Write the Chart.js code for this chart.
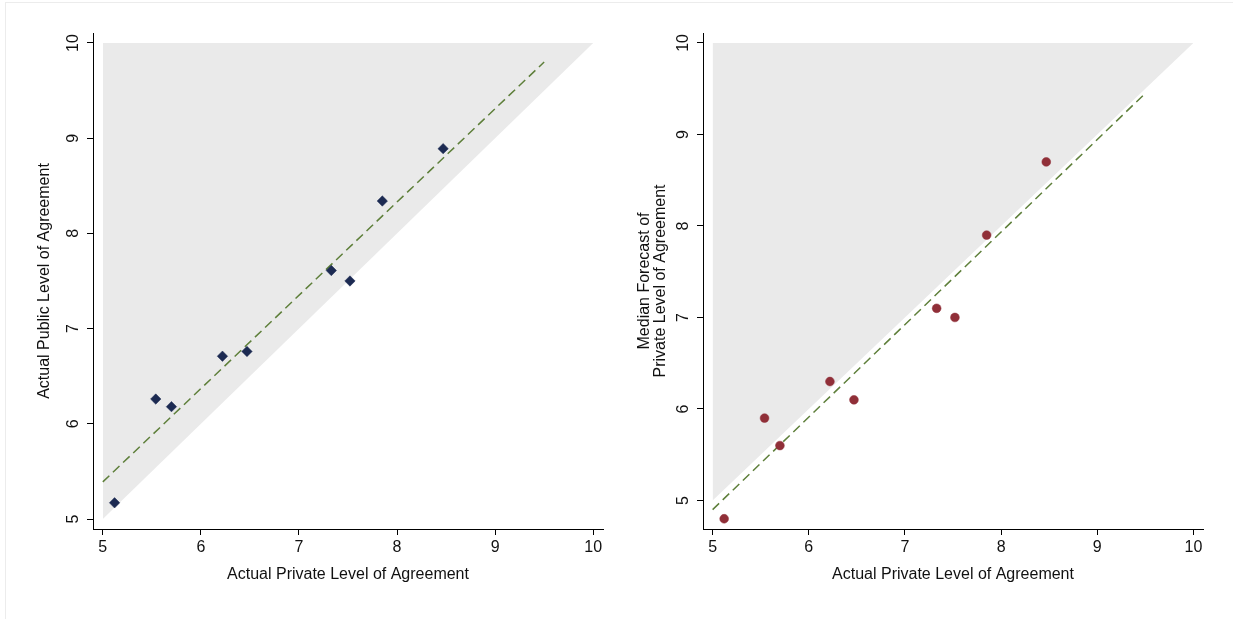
<!DOCTYPE html>
<html>
<head>
<meta charset="utf-8">
<script src="https://cdn.jsdelivr.net/npm/chart.js@4/dist/chart.umd.min.js"></script>
<style>
  html, body { margin: 0; padding: 0; background: #fff; }
  #wrap { position: relative; width: 1233px; height: 619px; overflow: hidden; }
  #frame { position: absolute; left: 5px; top: 2px; width: 1300px; height: 700px;
           border-left: 1px solid #ececec; border-top: 1px solid #ececec; }
  canvas { position: absolute; top: 0; }
  #left { left: 0; }
  #right { left: 616px; }
</style>
</head>
<body>
<div id="wrap">
  <div id="frame"></div>
  <canvas id="left" width="616" height="619"></canvas>
  <canvas id="right" width="617" height="619"></canvas>
</div>
<script>
// Observed levels of agreement, one entry per item
const privateLevel   = [5.12, 5.54, 5.70, 6.22, 6.47, 7.33, 7.52, 7.85, 8.47];
const publicLevel    = [5.17, 6.26, 6.18, 6.71, 6.76, 7.61, 7.50, 8.34, 8.89];
const medianForecast = [4.80, 5.90, 5.60, 6.30, 6.10, 7.10, 7.00, 7.90, 8.70];

// Fitted-value lines (end points)
const fitX          = [5, 9.5];
const fitPublicY    = [5.39, 9.80];
const fitForecastY  = [4.90, 9.45];

// Shaded region above the 45-degree line
const shadeX     = [5, 10];
const shadeLowY  = [5, 10];
const shadeHighY = [10, 10];

// Axis ticks
const tickValues = [5, 6, 7, 8, 9, 10];
const tickLabels = ['5', '6', '7', '8', '9', '10'];

const FONT = '"Liberation Sans", Arial, Helvetica, sans-serif';
const TEXT = '#111111';
const FS = 16;

const pts = (xs, ys) => xs.map((x, i) => ({ x: x, y: ys[i] }));

// Y tick labels are drawn turned a quarter turn, reading bottom to top
const rotatedYTicks = {
  id: 'rotatedYTicks',
  afterDraw(chart) {
    const s = chart.scales.y;
    const ctx = chart.ctx;
    ctx.save();
    ctx.font = FS + 'px ' + FONT;
    ctx.fillStyle = TEXT;
    ctx.textAlign = 'center';
    ctx.textBaseline = 'middle';
    s.ticks.forEach(t => {
      const y = s.getPixelForValue(t.value);
      ctx.save();
      ctx.translate(s.right - 20, y);
      ctx.rotate(-Math.PI / 2);
      ctx.fillText(tickLabels[tickValues.indexOf(t.value)], 0, 1);
      ctx.restore();
    });
    ctx.restore();
  }
};

function setTicks(scale) {
  scale.ticks = tickValues.map(v => ({ value: v }));
}

function buildChart(canvasId, cfg) {
  const datasets = [
    {
      data: pts(privateLevel, cfg.yValues),
      pointStyle: cfg.pointStyle,
      pointRadius: cfg.pointRadius,
      backgroundColor: cfg.pointColor,
      borderColor: cfg.pointColor,
      borderWidth: 0.5,
      showLine: false
    },
    {
      data: pts(fitX, cfg.fitY),
      showLine: true,
      borderColor: '#5e7f3a',
      borderWidth: 1.5,
      borderDash: [9, 5],
      pointRadius: 0,
      fill: false
    },
    {
      data: pts(shadeX, shadeLowY),
      showLine: true,
      borderColor: 'rgba(0,0,0,0)',
      borderWidth: 0,
      pointRadius: 0,
      backgroundColor: '#eaeaea',
      fill: '+1'
    },
    {
      data: pts(shadeX, shadeHighY),
      showLine: true,
      borderColor: 'rgba(0,0,0,0)',
      borderWidth: 0,
      pointRadius: 0,
      fill: false
    }
  ];

  return new Chart(document.getElementById(canvasId), {
    type: 'scatter',
    data: { datasets: datasets },
    plugins: [rotatedYTicks],
    options: {
      responsive: false,
      animation: false,
      devicePixelRatio: 1,
      layout: { padding: { left: 0, top: 33, right: cfg.padRight, bottom: 0 } },
      plugins: { legend: { display: false }, tooltip: { enabled: false } },
      scales: {
        x: {
          type: 'linear',
          min: 4.9,
          max: 10.1,
          afterBuildTicks: setTicks,
          afterFit: s => { s.height = 90; },
          grid: { drawOnChartArea: false, drawTicks: true, tickLength: 6, tickColor: '#000', tickWidth: 1 },
          border: { display: true, color: '#000', width: 1 },
          ticks: {
            color: TEXT,
            padding: 3,
            font: { family: FONT, size: FS },
            callback: v => tickLabels[tickValues.indexOf(v)]
          },
          title: {
            display: true,
            text: 'Actual Private Level of Agreement',
            color: TEXT,
            font: { family: FONT, size: FS, lineHeight: 1.2 },
            padding: { top: 0, bottom: 35 }
          }
        },
        y: {
          type: 'linear',
          min: cfg.yMin,
          max: cfg.yMax,
          afterBuildTicks: setTicks,
          afterFit: s => { s.width = cfg.yWidth; },
          grid: { drawOnChartArea: false, drawTicks: true, tickLength: 6, tickColor: '#000', tickWidth: 1 },
          border: { display: true, color: '#000', width: 1 },
          ticks: { display: false },
          title: {
            display: true,
            text: cfg.yTitle,
            color: TEXT,
            font: { family: FONT, size: FS, lineHeight: cfg.titleLH },
            padding: { top: cfg.titlePad, bottom: 0 }
          }
        }
      }
    }
  });
}

buildChart('left', {
  yValues: publicLevel,
  fitY: fitPublicY,
  pointStyle: 'rectRot',
  pointRadius: 5.2,
  pointColor: '#1c2a52',
  yMin: 4.895,
  yMax: 10.105,
  yWidth: 93,
  padRight: 13,
  yTitle: 'Actual Public Level of Agreement',
  titleLH: 1.2,
  titlePad: 35
});

buildChart('right', {
  yValues: medianForecast,
  fitY: fitForecastY,
  pointStyle: 'circle',
  pointRadius: 4.4,
  pointColor: '#902f38',
  yMin: 4.688,
  yMax: 10.109,
  yWidth: 87,
  padRight: 30,
  yTitle: ['Median Forecast of', 'Private Level of Agreement'],
  titleLH: '16px',
  titlePad: 21
});
</script>
</body>
</html>
